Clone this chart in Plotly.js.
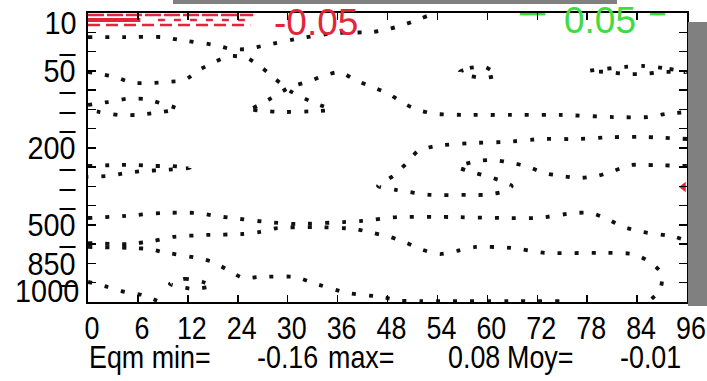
<!DOCTYPE html>
<html>
<head>
<meta charset="utf-8">
<script src="https://cdn.plot.ly/plotly-3.0.1.min.js"></script>
<style>html,body{margin:0;padding:0;background:#fff;}#chart{width:707px;height:381px;}</style>
</head>
<body>
<div id="chart"></div>
<script>
// ---- axis categories ----
const hours = ["0","6","12","24","30","36","48","54","60","72","78","84","96"];
const levels = [10,20,30,50,70,100,150,200,250,300,400,500,700,850,925,1000];
const levelLabels = ["","","\u2013","50","\u2013","\u2013","\u2013","200","\u2013","\u2013","\u2013","500","\u2013","850","\u2013",""];

// ---- statistics ----
const eqmMin = -0.16, eqmMax = 0.08, eqmMoy = -0.01;
const negLevel = "-0.05", posLevel = "0.05";

// ---- contour lines (x = forecast index, y = level index) ----
const c1x = [0,0.76,1.48,1.84,2.54,2.86,3.19,3.57,4.27,4.95,5.69,6.03,6.37,6.69,6.95];
const c1y = [1.25,1.25,1.25,1.40,1.66,1.87,1.87,1.66,1.30,1.04,0.99,0.83,0.57,0.26,0];

const c2x = [0,0.54,0.90,1.26,1.60,1.94,2.22,2.54,2.84,3.19,3.49,3.75,4.05,4.49,4.91];
const c2y = [3.06,3.32,3.63,3.63,3.58,3.48,2.96,2.54,2.23,2.34,2.85,3.42,4.05,4.62,5.03];

const c3x = [3.31,3.61,4.05,4.39,4.71,5.05,5.35,5.69,6.03,6.31,6.61,6.97,7.65,8.71,9.46,10.52,11.22,11.56,12];
const c3y = [4.93,4.51,3.84,3.58,3.27,3.06,3.48,3.84,4.20,4.67,5.03,5.24,5.29,5.29,5.29,5.40,5.40,5.24,5.14];

const c4x = [3.31,3.85,4.59,4.91];
const c4y = [5.03,5.14,5.09,5.03];

const c5x = [0,0.40,0.76,1.12,1.44,1.80,1.34,0.98,0.60,0.24,0];
const c5y = [4.77,4.62,4.46,4.46,4.67,4.98,5.19,5.29,5.29,5.14,5.03];

const c6x = [7.45,7.65,7.95,8.19,7.95,7.65,7.45];
const c6y = [3.06,2.85,2.80,3.22,3.37,3.27,3.06];

const c7x = [12,11.50,11.12,10.76,10.02,10.40,10.80,11.12,11.50,12];
const c7y = [3.06,2.85,2.75,2.80,3.01,3.06,3.17,3.17,3.06,3.06];

const c8x = [12,11.22,10.52,9.80,9.09,8.37,7.67,6.97,6.61,6.39,6.11,5.81,6.19,6.87,7.59,7.93,8.29,8.49,8.11,7.75,7.41,
             7.79,8.13,8.49,8.83,9.13,9.48,9.84,10.20,10.52,10.88,11.22,12];
const c8y = [6.54,6.44,6.44,6.54,6.54,6.69,6.75,6.90,7.16,7.78,8.46,8.98,9.19,9.44,9.44,9.44,9.29,8.98,8.56,8.30,7.99,
             7.68,7.63,7.78,7.99,8.30,8.46,8.56,8.46,8.20,7.89,7.89,7.94];

const c9x = [0,0.60,0.96,1.32,1.68,2.04,1.48,1.12,0.76,0.40,0];
const c9y = [7.94,7.89,7.89,7.94,7.94,8.04,8.15,8.20,8.30,8.46,8.51];

const c10x = [0,0.76,1.48,2.18,2.54,2.88,3.59,4.17,5.11,5.49,6.19,7.25,8.31,9.01,9.74,10.08,10.40,10.72,11.10,11.76,12];
const c10y = [10.64,10.53,10.38,10.38,10.53,10.64,10.85,10.95,10.85,10.79,10.59,10.59,10.64,10.64,10.38,10.38,10.69,11.10,11.36,11.62,11.83];

const c11x = [0,0.80,1.32,1.70,2.38,3.10,3.45,3.79,4.51,5.35,5.71,6.05,6.39,6.71,7.05,7.39,7.77,8.47,9.15,10.22,10.92,11.26,11.50,11.46,11.22];
const c11y = [11.94,11.99,11.83,11.62,11.52,11.47,11.36,11.16,11.11,11.21,11.42,11.62,11.94,12.30,12.51,12.35,12.14,12.19,12.45,12.45,12.51,12.92,13.55,14.38,15];

const c12x = [0,0.80,1.24,1.48,2.18,2.50,2.80,3.10,3.45,4.15,4.51,5.19,5.89,6.25,6.65,9.46];
const c12y = [12.14,12.19,12.25,12.40,12.71,12.92,13.34,13.75,13.70,13.70,14.01,14.53,14.74,14.93,14.95,14.95];

const c13x = [0,0.40,0.74,1.08,1.44];
const c13y = [13.96,14.22,14.48,14.63,15];

const c14x = [1.64,1.94,2.30,2.48,2.08,1.64];
const c14y = [14.06,13.80,13.96,14.17,14.32,14.06];

// negative (red) and positive (green) contours near the top
const r1x = [0,3.31], r1y = [0.10,0.10];
const r2x = [0,1.05], r2y = [0.36,0.36];
const r3x = [1.4,3.2], r3y = [0.36,0.36];
const r4x = [0,3.25], r4y = [0.62,0.62];
const g1x = [8.65,9.16], g1y = [0.06,0.06];
const g2x = [11.26,11.56], g2y = [0.06,0.06];
const redTipX = [11.93], redTipY = [9.03];

const SANS = "'Liberation Sans',Arial,sans-serif";
const RED = "#e4243a", GREEN = "#3fdc3f";

function dotted(x, y) {
  return {x: x, y: y, type: "scatter", mode: "lines", hoverinfo: "skip", showlegend: false,
          line: {color: "#111", width: 3.8, dash: "4px,13px", shape: "spline", smoothing: 0.6}};
}
function colored(x, y, color, width, dash) {
  return {x: x, y: y, type: "scatter", mode: "lines", hoverinfo: "skip", showlegend: false,
          line: {color: color, width: width, dash: dash}};
}

const traces = [
  dotted(c1x,c1y), dotted(c2x,c2y), dotted(c3x,c3y), dotted(c4x,c4y), dotted(c5x,c5y),
  dotted(c6x,c6y), dotted(c7x,c7y), dotted(c8x,c8y), dotted(c9x,c9y), dotted(c10x,c10y),
  dotted(c11x,c11y), dotted(c12x,c12y), dotted(c13x,c13y), dotted(c14x,c14y),
  colored(r1x,r1y,RED,2.5,"16px,3px"),
  colored(r2x,r2y,RED,4,"solid"),
  colored(r3x,r3y,RED,2.5,"7px,9px"),
  colored(r4x,r4y,RED,2.5,"12px,6px"),
  colored(g1x,g1y,GREEN,2.5,"solid"),
  colored(g2x,g2y,GREEN,2.5,"solid"),
  {x: redTipX, y: redTipY, type: "scatter", mode: "markers", hoverinfo: "skip", showlegend: false,
   marker: {symbol: "triangle-left", size: 9, color: RED}}
];

const px = v => (v - 88) / 599;    // pixel -> paper x
const py = v => (302 - v) / 289;   // pixel -> paper y

const statFont = {family: SANS, size: 32, color: "#000"};
function stat(text, left) {
  return {text: text, xref: "paper", yref: "paper", x: px(left), y: py(357), xanchor: "left", yanchor: "middle",
          showarrow: false, font: statFont};
}

const layout = {
  width: 707, height: 381,
  margin: {l: 88, r: 20, t: 13, b: 79, pad: 0},
  paper_bgcolor: "#fff", plot_bgcolor: "#fff",
  showlegend: false,
  xaxis: {
    range: [0, 12], tickmode: "array", tickvals: hours.map((h, i) => i), ticktext: hours,
    ticks: "inside", ticklen: 7, tickwidth: 1.5, tickcolor: "#000",
    showline: true, linecolor: "#000", linewidth: 2, mirror: "allticks",
    showgrid: false, zeroline: false, ticklabelstandoff: 0,
    tickfont: {family: SANS, size: 32, color: "#000"}
  },
  yaxis: {
    range: [15, 0], tickmode: "array", tickvals: levels.map((l, i) => i), ticktext: levelLabels,
    ticks: "inside", ticklen: 8, tickwidth: 1.5, tickcolor: "#000",
    showline: true, linecolor: "#000", linewidth: 2, mirror: "allticks",
    showgrid: false, zeroline: false, ticklabelstandoff: 4,
    tickfont: {family: SANS, size: 32, color: "#000"}
  },
  shapes: [
    {type: "rect", xref: "paper", yref: "paper", x0: px(173), x1: px(617), y0: py(4), y1: py(-2),
     fillcolor: "#808080", line: {width: 0}, layer: "above"},
    {type: "rect", xref: "paper", yref: "paper", x0: px(688), x1: px(710), y0: py(306), y1: py(22),
     fillcolor: "#808080", line: {width: 0}, layer: "above"}
  ],
  annotations: [
    {text: String(levels[0]), xref: "paper", yref: "paper", x: px(79), y: py(23), xanchor: "right", yanchor: "middle",
     showarrow: false, font: {family: SANS, size: 32, color: "#000"}},
    {text: String(levels[levels.length - 1]), xref: "paper", yref: "paper", x: px(81), y: py(291), xanchor: "right", yanchor: "middle",
     showarrow: false, font: {family: SANS, size: 32, color: "#000"}},
    {text: negLevel, xref: "x", yref: "y", x: 4.57, y: 0.5, xanchor: "center", yanchor: "middle",
     showarrow: false, font: {family: SANS, size: 37, color: RED}},
    {text: posLevel, xref: "x", yref: "y", x: 10.26, y: 0.4, xanchor: "center", yanchor: "middle",
     showarrow: false, font: {family: SANS, size: 37, color: GREEN}},
    stat("Eqm min=", 87),
    stat(eqmMin.toFixed(2), 255),
    stat("max=", 326),
    stat(eqmMax.toFixed(2), 446),
    stat("Moy=", 505),
    stat(eqmMoy.toFixed(2), 618)
  ]
};

// condense the axis / statistics text horizontally (narrow typeface look)
function condense(t, anchor, scale, shiftX, shiftY) {
  const b = t.getBBox();
  const ax = anchor === "left" ? b.x : anchor === "right" ? b.x + b.width : b.x + b.width / 2;
  const prev = t.getAttribute("transform") || "";
  t.setAttribute("transform",
    prev + " translate(" + (ax + (shiftX || 0)) + "," + (shiftY || 0) + ") scale(" + scale + ",1) translate(" + (-ax) + ",0)");
}

Plotly.newPlot("chart", traces, layout, {staticPlot: true, displayModeBar: false}).then(gd => {
  gd.querySelectorAll(".xtick text").forEach(t => condense(t, "center", 0.84, 4, -3));
  gd.querySelectorAll(".ytick text").forEach(t => condense(t, "right", 0.9, 0, 0));
  gd.querySelectorAll(".annotation").forEach(g => {
    const i = +g.getAttribute("data-index");
    const ann = layout.annotations[i];
    if (!ann || ann.xref !== "paper") return;
    const t = g.querySelector("text");
    if (t) condense(t, ann.xanchor, i < 2 ? 0.9 : 0.84, 0, 0);
  });
});
</script>
</body>
</html>
